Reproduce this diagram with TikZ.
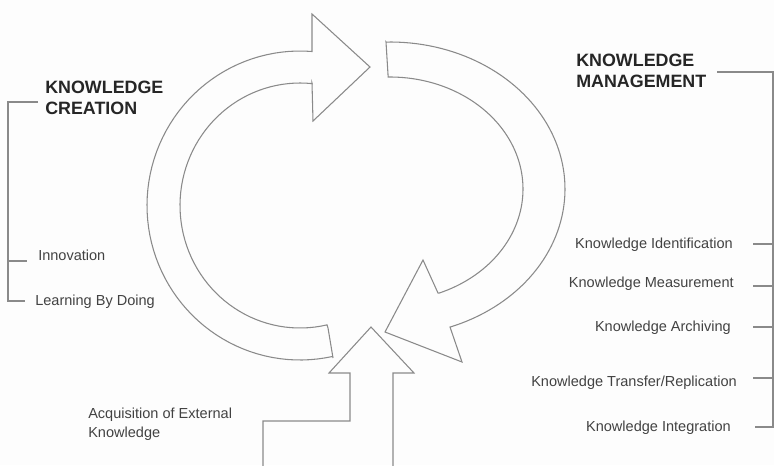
\documentclass[tikz,border=0pt]{standalone}
\usepackage{fontspec}
\setmainfont{Liberation Sans}
\definecolor{linegray}{HTML}{8A8A8A}
\definecolor{titlegray}{HTML}{262626}
\definecolor{labelgray}{HTML}{424242}
\definecolor{paper}{HTML}{FDFDFD}
\begin{document}
\begin{tikzpicture}[x=0.75pt,y=-0.75pt,
  outline/.style={draw=linegray, line width=0.8pt, line join=miter},
  bracket/.style={draw=linegray, line width=0.9pt},
  title/.style={inner sep=0pt, anchor=north west, align=left, text=titlegray,
    font=\bfseries\fontsize{13.4}{16.2}\selectfont},
  label/.style={inner sep=0pt, text=labelgray, font=\fontsize{10.9}{14.25}\selectfont},
]
% canvas
\fill[paper] (0,0) rectangle (774,465);
\useasboundingbox (0,0) rectangle (774,465);

% curved arrow on the left (creation loop), pointing right at the top
\draw[outline] (333,358) -- (328,328)
  -- plot[domain=0:1, samples=70] ({300+120*cos(283-199*\x)}, {205.5-122.5*sin(283-199*\x)})
  -- (312,83) -- (313,121) -- (370,67) -- (312,14) -- (312,52)
  -- plot[domain=0:1, samples=70] ({300+153*cos(85.5+197*\x)}, {205.5-154.5*sin(85.5+197*\x)})
  -- cycle;

% curved arrow on the right (management loop), pointing down-left at the bottom
\draw[outline] (386,42)
  -- plot[domain=0:1, samples=80] ({390+175*cos(91.3-161.2*\x)}, {189-147*sin(91.3-161.2*\x)})
  -- (450,327) -- (462,362) -- (385,332) -- (423,260) -- (438,293)
  -- plot[domain=0:1, samples=80] ({390+133*cos(-68.3+159.2*\x)}, {189-112*sin(-68.3+159.2*\x)})
  -- cycle;

% stepped arrow coming up from below
\draw[outline] (263,466) -- (263,421) -- (350,421) -- (350,373) -- (329,373)
  -- (371,327) -- (414,373) -- (393,373) -- (393,466);

% headings
\node[title] (kc) at (45,80.5) {KNOWLEDGE\\CREATION};
\node[title] (km) at (576,53.5) {KNOWLEDGE\\MANAGEMENT};

% creation items
\node[label, anchor=base west] (inno) at (38,260) {Innovation};
\node[label, anchor=base west] (lbd) at (35,305) {Learning By Doing};
\node[label, anchor=north west, align=left] (acq) at (88,407.5) {Acquisition of External\\Knowledge};

% management items
\node[label, anchor=base east] (kid) at (733,248) {Knowledge Identification};
\node[label, anchor=base east] (kme) at (734,287) {Knowledge Measurement};
\node[label, anchor=base east] (kar) at (731,331) {Knowledge Archiving};
\node[label, anchor=base east] (ktr) at (737,386) {Knowledge Transfer/Replication};
\node[label, anchor=base east] (kin) at (731,431) {Knowledge Integration};

% left bracket
\coordinate (lTopEnd) at (38,102);
\coordinate (lTop) at (8,102);
\coordinate (lMid) at (8,261);
\coordinate (lMidEnd) at (27,261);
\coordinate (lBot) at (8,301);
\coordinate (lBotEnd) at (25,301);
\draw[bracket] (lTopEnd) -- (lTop) -- (lBot) -- (lBotEnd);
\draw[bracket] (lMid) -- (lMidEnd);

% right bracket
\coordinate (rTopEnd) at (717,72);
\coordinate (rTop) at (773,72);
\coordinate (rBot) at (773,427);
\coordinate (rBotEnd) at (755,427);
\draw[bracket] (rTopEnd) -- (rTop) -- (rBot) -- (rBotEnd);
\foreach \yy/\nm in {244/a, 286/b, 327/c, 378/d} {
  \coordinate (rt\nm) at (753,\yy);
  \coordinate (rs\nm) at (773,\yy);
  \draw[bracket] (rt\nm) -- (rs\nm);
}
\end{tikzpicture}
\end{document}
